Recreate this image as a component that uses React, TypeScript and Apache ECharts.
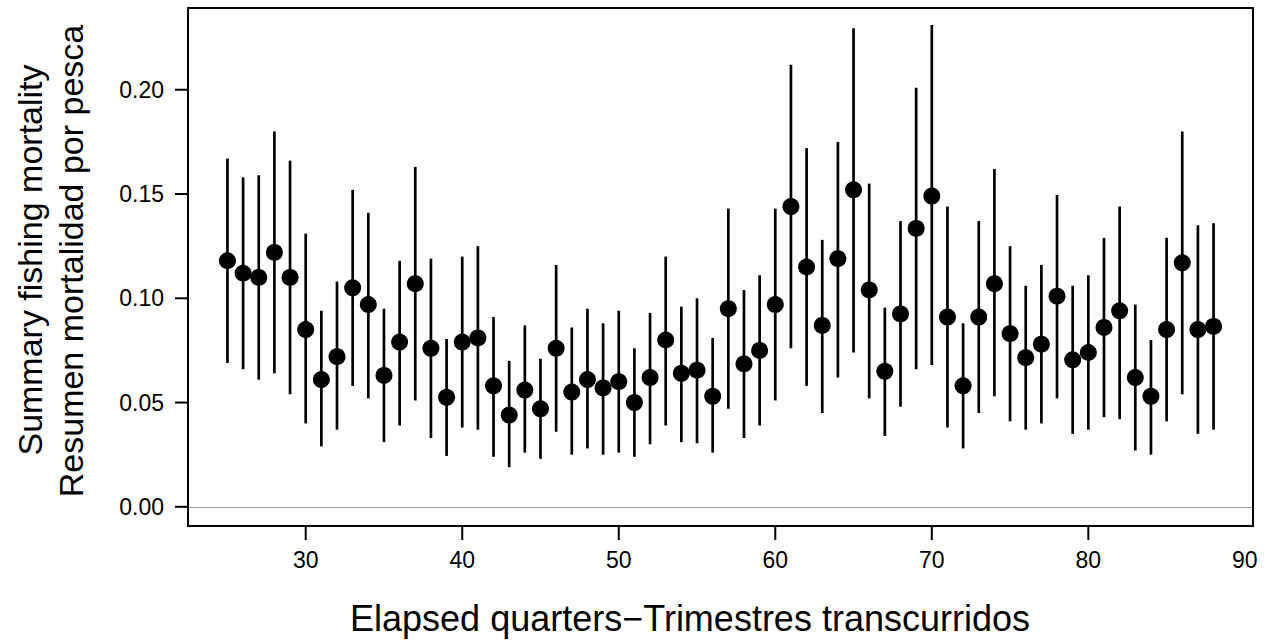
import { useEffect, useRef } from "react";
import * as echarts from "echarts";

const quarters = [
  25, 26, 27, 28, 29, 30, 31, 32, 33, 34, 35, 36, 37, 38, 39, 40,
  41, 42, 43, 44, 45, 46, 47, 48, 49, 50, 51, 52, 53, 54, 55, 56,
  57, 58, 59, 60, 61, 62, 63, 64, 65, 66, 67, 68, 69, 70, 71, 72,
  73, 74, 75, 76, 77, 78, 79, 80, 81, 82, 83, 84, 85, 86, 87, 88,
];
const estimate = [
  0.118, 0.112, 0.110, 0.122, 0.110, 0.085, 0.061, 0.072, 0.105, 0.097, 0.063, 0.079, 0.107, 0.076, 0.0525, 0.079,
  0.081, 0.058, 0.044, 0.056, 0.047, 0.076, 0.055, 0.061, 0.057, 0.060, 0.050, 0.062, 0.080, 0.064, 0.0655, 0.053,
  0.095, 0.0685, 0.075, 0.097, 0.144, 0.115, 0.087, 0.119, 0.152, 0.104, 0.065, 0.0925, 0.1335, 0.149, 0.091, 0.058,
  0.091, 0.107, 0.083, 0.0715, 0.078, 0.101, 0.0705, 0.074, 0.086, 0.094, 0.062, 0.053, 0.085, 0.117, 0.085, 0.0865,
];
const lower = [
  0.069, 0.066, 0.061, 0.064, 0.054, 0.040, 0.029, 0.037, 0.058, 0.052, 0.031, 0.039, 0.051, 0.033, 0.0244, 0.038,
  0.037, 0.024, 0.019, 0.026, 0.023, 0.036, 0.025, 0.028, 0.025, 0.026, 0.024, 0.030, 0.039, 0.031, 0.0305, 0.026,
  0.047, 0.033, 0.039, 0.051, 0.076, 0.058, 0.045, 0.062, 0.074, 0.052, 0.034, 0.048, 0.066, 0.068, 0.038, 0.028,
  0.045, 0.053, 0.041, 0.037, 0.040, 0.052, 0.035, 0.037, 0.043, 0.042, 0.027, 0.025, 0.041, 0.054, 0.035, 0.037,
];
const upper = [
  0.167, 0.158, 0.159, 0.180, 0.166, 0.131, 0.094, 0.108, 0.152, 0.141, 0.095, 0.118, 0.163, 0.119, 0.0805, 0.120,
  0.125, 0.091, 0.070, 0.087, 0.071, 0.116, 0.086, 0.095, 0.088, 0.094, 0.076, 0.093, 0.120, 0.096, 0.100, 0.081,
  0.143, 0.104, 0.111, 0.143, 0.212, 0.172, 0.128, 0.175, 0.2295, 0.155, 0.0955, 0.137, 0.201, 0.231, 0.144, 0.088,
  0.137, 0.162, 0.125, 0.106, 0.116, 0.1495, 0.106, 0.111, 0.129, 0.144, 0.097, 0.080, 0.129, 0.180, 0.135, 0.136,
];

const xTickValues = [30, 40, 50, 60, 70, 80];
const xLabelValues = [30, 40, 50, 60, 70, 80, 90];
const yTickValues = [0, 0.05, 0.1, 0.15, 0.2];
const yTickLabels = ["0.00", "0.05", "0.10", "0.15", "0.20"];

const xTitle = "Elapsed quarters\u2212Trimestres transcurridos";
const yTitleLine1 = "Summary fishing mortality";
const yTitleLine2 = "Resumen mortalidad por pesca";

const X_MIN = 22.48;
const X_MAX = 90.52;
const Y_MIN = -0.0092;
const Y_MAX = 0.2392;
const FONT = "'Liberation Sans', Arial, Helvetica, sans-serif";

export default function App() {
  const ref = useRef<HTMLDivElement>(null);

  useEffect(() => {
    if (!ref.current) return;
    const chart = echarts.init(ref.current, null, { renderer: "svg" });

    const option: any = {
      animation: false,
      backgroundColor: "#ffffff",
      grid: {
        left: 188,
        right: 17,
        top: 8,
        bottom: 114,
        show: true,
        borderColor: "#000000",
        borderWidth: 2,
        backgroundColor: "transparent",
        z: 5,
      },
      xAxis: {
        type: "value",
        min: X_MIN,
        max: X_MAX,
        axisLine: { show: false },
        axisTick: { show: false },
        axisLabel: { show: false },
        splitLine: { show: false },
      },
      yAxis: {
        type: "value",
        min: Y_MIN,
        max: Y_MAX,
        axisLine: { show: false },
        axisTick: { show: false },
        axisLabel: { show: false },
        splitLine: { show: false },
      },
      graphic: [
        {
          type: "text",
          x: 690,
          y: 618,
          style: {
            text: xTitle,
            fontSize: 36,
            fontFamily: FONT,
            fill: "#000",
            align: "center",
            verticalAlign: "middle",
          },
        },
        {
          type: "text",
          x: 30,
          y: 260,
          rotation: Math.PI / 2,
          style: {
            text: yTitleLine1,
            fontSize: 34,
            fontFamily: FONT,
            fill: "#000",
            align: "center",
            verticalAlign: "middle",
          },
        },
        {
          type: "text",
          x: 71,
          y: 261,
          rotation: Math.PI / 2,
          style: {
            text: yTitleLine2,
            fontSize: 34,
            fontFamily: FONT,
            fill: "#000",
            align: "center",
            verticalAlign: "middle",
          },
        },
      ],
      series: [
        {
          type: "custom",
          name: "interval",
          silent: true,
          z: 2,
          data: quarters.map((q, i) => [q, lower[i], upper[i]]),
          renderItem: (_params: any, api: any) => {
            const a = api.coord([api.value(0), api.value(1)]);
            const b = api.coord([api.value(0), api.value(2)]);
            return {
              type: "line",
              shape: { x1: a[0], y1: a[1], x2: b[0], y2: b[1] },
              style: { stroke: "#000", lineWidth: 2.7 },
            };
          },
        },
        {
          type: "scatter",
          name: "estimate",
          silent: true,
          z: 3,
          symbol: "circle",
          symbolSize: 17,
          itemStyle: { color: "#000", opacity: 1 },
          data: quarters.map((q, i) => [q, estimate[i]]),
          markLine: {
            silent: true,
            symbol: ["none", "none"],
            label: { show: false },
            lineStyle: { color: "#a0a0a0", width: 1, type: "solid" },
            data: [{ yAxis: 0 }],
            z: 1,
          },
        },
        {
          type: "custom",
          name: "xticks",
          silent: true,
          clip: false,
          z: 6,
          data: xLabelValues.map((v) => [v, Y_MIN, xTickValues.indexOf(v) >= 0 ? 1 : 0]),
          renderItem: (_params: any, api: any) => {
            const p = api.coord([api.value(0), Y_MIN]);
            const children: any[] = [];
            if (api.value(2)) {
              children.push({
                type: "line",
                shape: { x1: p[0], y1: p[1], x2: p[0], y2: p[1] + 14 },
                style: { stroke: "#000", lineWidth: 2 },
              });
            }
            children.push({
              type: "text",
              x: p[0],
              y: p[1] + 34,
              style: {
                text: String(api.value(0)),
                fontSize: 23,
                fontFamily: FONT,
                fill: "#000",
                align: "center",
                verticalAlign: "middle",
              },
            });
            return { type: "group", children };
          },
        },
        {
          type: "custom",
          name: "yticks",
          silent: true,
          clip: false,
          z: 6,
          data: yTickValues.map((v) => [X_MIN, v]),
          renderItem: (params: any, api: any) => {
            const p = api.coord([X_MIN, api.value(1)]);
            return {
              type: "group",
              children: [
                {
                  type: "line",
                  shape: { x1: p[0] - 13, y1: p[1], x2: p[0], y2: p[1] },
                  style: { stroke: "#000", lineWidth: 2 },
                },
                {
                  type: "text",
                  x: p[0] - 24,
                  y: p[1],
                  style: {
                    text: yTickLabels[params.dataIndex],
                    fontSize: 23,
                    fontFamily: FONT,
                    fill: "#000",
                    align: "right",
                    verticalAlign: "middle",
                  },
                },
              ],
            };
          },
        },
      ],
    };

    chart.setOption(option);
    return () => {
      chart.dispose();
    };
  }, []);

  return (
    <div
      ref={ref}
      style={{ position: "absolute", left: 0, top: 0, width: 1270, height: 640, background: "#fff" }}
    />
  );
}
